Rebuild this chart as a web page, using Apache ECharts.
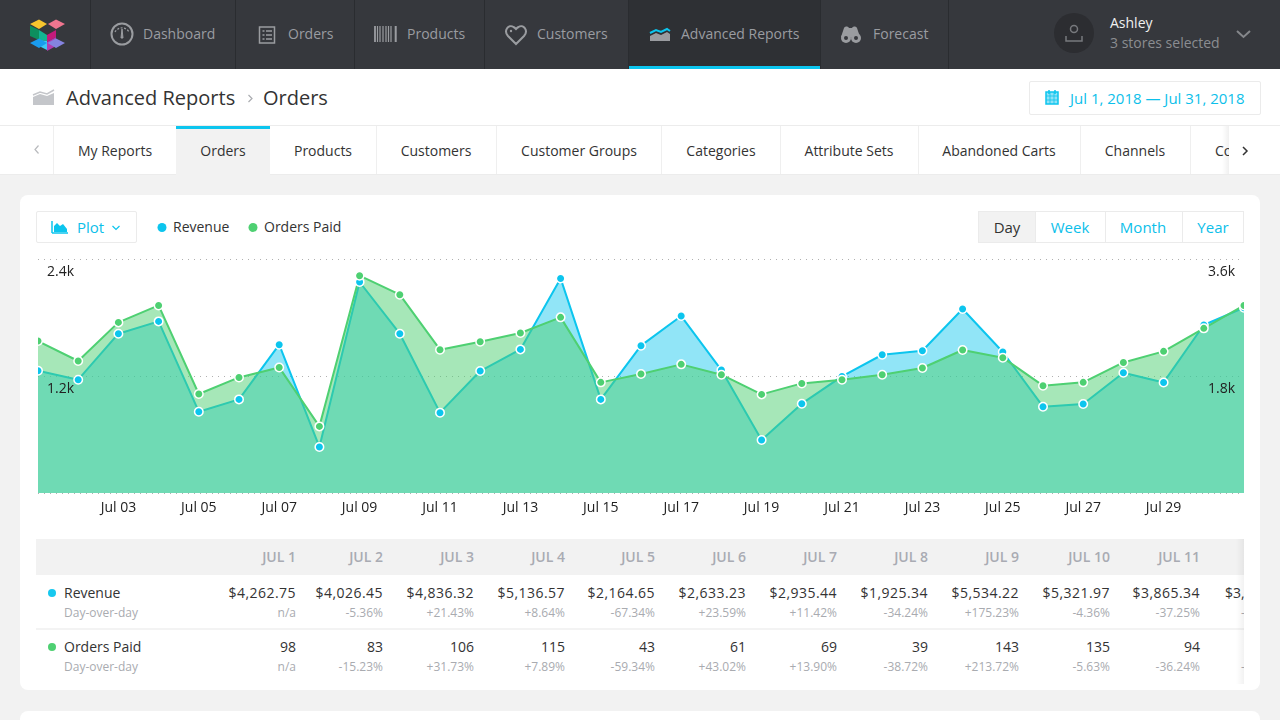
<!DOCTYPE html>
<html><head><meta charset="utf-8">
<script src="https://cdn.jsdelivr.net/npm/echarts@6/dist/echarts.min.js"></script>
<style>
html,body{margin:0;padding:0;width:1280px;height:720px;overflow:hidden;background:#f2f2f2;font-family:"Open Sans",sans-serif;color:#333}
div,span{box-sizing:border-box}
.a{position:absolute}
.t{position:absolute;white-space:nowrap;height:20px;line-height:20px}
svg{position:absolute;overflow:visible}
</style></head><body>
<div id="root" class="a" style="left:0;top:0;width:1280px;height:720px;overflow:hidden">
  <!-- top nav -->
  <div class="a" style="left:0;top:0;width:1280px;height:69px;background:#36383d"></div>
  <div class="a" style="left:629px;top:0;width:191px;height:69px;background:#2e3034;border-bottom:3px solid #0cc5ee"></div>
  <!-- breadcrumb row -->
  <div class="a" style="left:0;top:69px;width:1280px;height:57px;background:#fff;border-bottom:1px solid #ececec"></div>
  <div class="a" style="left:1029px;top:81px;width:232px;height:34px;background:#fff;border:1px solid #ebebeb;border-radius:2px"></div>
  <!-- tabs row -->
  <div class="a" style="left:0;top:126px;width:1280px;height:49px;background:#fff;border-bottom:1px solid #ececec"></div>
  <div class="a" style="left:176px;top:126px;width:94px;height:49px;background:#f2f2f2;border-top:3px solid #0cc5ee"></div>
  <div class="a" style="left:1222px;top:126px;width:7px;height:48px;background:linear-gradient(90deg,rgba(0,0,0,0),rgba(0,0,0,.06))"></div>
  <!-- cards -->
  <div class="a" style="left:20px;top:195px;width:1240px;height:495px;background:#fff;border-radius:8px"></div>
  <div class="a" style="left:20px;top:711px;width:1240px;height:40px;background:#fff;border-radius:8px"></div>
  <!-- controls -->
  <div class="a" style="left:36px;top:211px;width:101px;height:32px;border:1px solid #ebebeb;border-radius:2px"></div>
  <div class="a" style="left:978px;top:211px;width:266px;height:32px;border:1px solid #ebebeb"></div>
  <div class="a" style="left:978px;top:211px;width:58px;height:32px;background:#f2f2f2;border:1px solid #ebebeb"></div>
  <div class="a" style="left:1105px;top:211px;width:1px;height:32px;background:#ebebeb"></div>
  <div class="a" style="left:1182px;top:211px;width:1px;height:32px;background:#ebebeb"></div>
  <!-- table frame -->
  <div class="a" style="left:36px;top:539px;width:1208px;height:36px;background:#f2f2f2"></div>
  <div class="a" style="left:36px;top:628px;width:1208px;height:2px;background:#f3f3f3"></div>
  <div id="chrome"></div>
  <div id="table" class="a" style="left:0;top:0;width:1244px;height:720px;overflow:hidden"></div>
  <div class="a" style="left:1236px;top:539px;width:8px;height:145px;background:linear-gradient(90deg,rgba(0,0,0,0),rgba(0,0,0,.05))"></div>
  <div id="chart" class="a" style="left:38px;top:250px;width:1206px;height:275px"></div>

  <svg style="left:0;top:0" width="1280" height="720" viewBox="0 0 1280 720">
    <!-- logo -->
    <polygon points="30,24 39,19.5 47,24 39,29" fill="#f7c52e"/>
    <polygon points="48,24 56,19.5 65,24 56,29" fill="#f0758f"/>
    <polygon points="30,25.5 39,30 39,40 30,36" fill="#0d8f5e"/>
    <polygon points="39,30 47,35 47,41 39,40" fill="#12b592"/>
    <polygon points="56,30 47,35 47,42 56,37" fill="#c41a7c"/>
    <polygon points="47,42 56,37 56,46 47,51" fill="#b23cb0"/>
    <polygon points="39,40 47,41 47,50 39,46" fill="#3ec8f5"/>
    <polygon points="30,43 39,38.5 47,43 39,48 " fill="#1a9bee"/>
    <polygon points="47.5,43 56,38.5 65,43 56,48" fill="#8583e0"/>
    <!-- nav separators -->
    <g stroke="#2a2c30" stroke-width="1">
      <line x1="90.5" y1="0" x2="90.5" y2="69"/><line x1="235.5" y1="0" x2="235.5" y2="69"/>
      <line x1="354.5" y1="0" x2="354.5" y2="69"/><line x1="484.5" y1="0" x2="484.5" y2="69"/>
      <line x1="628.5" y1="0" x2="628.5" y2="69"/><line x1="820.5" y1="0" x2="820.5" y2="69"/>
      <line x1="948.5" y1="0" x2="948.5" y2="69"/>
    </g>
    <!-- gauge -->
    <g stroke="#9a9ca0" fill="none" stroke-width="2">
      <circle cx="122" cy="34" r="10.5"/>
      <path d="M115 32a8 8 0 0 1 14 0" stroke-width="1.2" stroke-dasharray="2 1.5"/>
      <path d="M121 38l1-9 1 9z" fill="#9a9ca0" stroke-width="1"/>
      <!-- orders list -->
      <rect x="259.5" y="27" width="15" height="16" stroke-width="1.5"/>
      <path d="M262.5 31h2M266 31h6M262.5 35h2M266 35h6M262.5 39h2M266 39h6" stroke-width="1.5"/>
      <!-- barcode -->
      <path d="M375 26v16M377.5 26v16M380 26v16M383 26v16M386 26v16M388.5 26v16M391 26v16M396 26v16" stroke-width="1.2"/>
      <path d="M375 26v16M395.5 26v16" stroke-width="1.6"/>
      <!-- heart -->
      <path d="M516 44l-8-8c-5-6 1-12 5.500-9 1.500 .8 2.500 2 2.500 2s1-1.200 2.500-2c4.500-3 10.500 3 5.500 9z" stroke-width="2"/>
    </g>
    <circle cx="511" cy="31" r="1.200" fill="#9a9ca0"/>
    <!-- Advanced Reports icon -->
    <path d="M650 41v-5l6-3 5 2 6-3 3 2v7z" fill="#9a9ca0"/>
    <path d="M650 33l6-3 5 2 6-3 3 2" fill="none" stroke="#0cc5ee" stroke-width="2"/>
    <!-- binoculars -->
    <path d="M842 38l3-9c1-2 4-2 5 0h3c1-2 4-2 5 0l3 9z" fill="#9a9ca0" transform="translate(-1 -1)"/>
    <circle cx="846" cy="38" r="5" fill="#9a9ca0"/><circle cx="856" cy="38" r="5" fill="#9a9ca0"/>
    <circle cx="846" cy="38" r="2" fill="#36383d"/><circle cx="856" cy="38" r="2" fill="#36383d"/>
    <!-- avatar -->
    <circle cx="1074" cy="33" r="20" fill="#2c2d31"/>
    <circle cx="1074" cy="29" r="3.500" fill="none" stroke="#77797d" stroke-width="1.500"/>
    <path d="M1066 36v5h16v-5" fill="none" stroke="#77797d" stroke-width="1.500"/>
    <path d="M1237 31l6.500 6 6.500-6" fill="none" stroke="#85878b" stroke-width="2"/>
    <!-- breadcrumb icon -->
    <path d="M33 105v-8l7-3 7 2 7-3v12z" fill="#c4c6ca"/>
    <path d="M33 95l7-3 7 2 7-4" fill="none" stroke="#c4c6ca" stroke-width="1.500"/>
    <path d="M248.500 95l3.500 3.500-3.500 3.500" fill="none" stroke="#aaacb0" stroke-width="1.200"/>
    <!-- calendar -->
    <g fill="none" stroke="#0cc5ee" stroke-width="1.500">
      <rect x="1046" y="92" width="12" height="12" fill="#8fe2f7"/>
      <path d="M1049 90v4M1055 90v4"/>
    </g>
    <path d="M1046 96h12M1046 100h12M1050 92v12M1054 92v12" stroke="#0cc5ee" stroke-width=".8"/>
    <!-- tab separators -->
    <g stroke="#efefef" stroke-width="1">
      <line x1="53.500" y1="126" x2="53.500" y2="174"/><line x1="376.500" y1="126" x2="376.500" y2="174"/>
      <line x1="496.500" y1="126" x2="496.500" y2="174"/><line x1="661.500" y1="126" x2="661.500" y2="174"/>
      <line x1="780.500" y1="126" x2="780.500" y2="174"/><line x1="918.500" y1="126" x2="918.500" y2="174"/>
      <line x1="1080.500" y1="126" x2="1080.500" y2="174"/><line x1="1190.500" y1="126" x2="1190.500" y2="174"/>
    </g>
    <path d="M38.500 145.500l-3.500 4 3.500 4" fill="none" stroke="#b8babd" stroke-width="1.200"/>
    <!-- plot icon -->
    <path d="M52 233h16M52 221v12" stroke="#0cc5ee" stroke-width="1.500" fill="none"/>
    <path d="M54 232v-6l3-3 3 3 3-2 4 5v3z" fill="#0cc5ee"/>
    <path d="M112.500 226l3.500 3.500 3.500-3.500" fill="none" stroke="#0cc5ee" stroke-width="1.200"/>
    <!-- legend dots -->
    <circle cx="162" cy="227.500" r="4.500" fill="#0cc5ee"/><circle cx="253" cy="227.500" r="4.500" fill="#4ed072"/>
    <circle cx="52" cy="593" r="4" fill="#17c8ef"/><circle cx="52" cy="647" r="4" fill="#4ed072"/>
  </svg>
  <div class="a" style="left:1229px;top:126px;width:51px;height:48px;background:#fff"></div>
  <svg style="left:0;top:0" width="1280" height="720"><path d="M1243 147l4 4-4 4" fill="none" stroke="#333" stroke-width="1.500"/></svg>
</div>
<script>
// Chart data
const days = ["Jul 01","Jul 02","Jul 03","Jul 04","Jul 05","Jul 06","Jul 07","Jul 08","Jul 09","Jul 10","Jul 11","Jul 12","Jul 13","Jul 14","Jul 15","Jul 16","Jul 17","Jul 18","Jul 19","Jul 20","Jul 21","Jul 22","Jul 23","Jul 24","Jul 25","Jul 26","Jul 27","Jul 28","Jul 29","Jul 30","Jul 31"];
const revenue = [1254,1162,1634,1760,834,960,1521,472,2164,1634,824,1251,1473,2201,960,1511,1815,1261,544,916,1196,1418,1459,1887,1446,885,913,1234,1134,1723,1900];
const ordersPaid = [2338,2031,2625,2886,1523,1778,1932,1025,3343,3051,2205,2328,2462,2702,1702,1831,1979,1820,1517,1686,1743,1820,1923,2200,2082,1651,1702,2009,2179,2533,2886];

// Table data
const tableDays = ["JUL 1","JUL 2","JUL 3","JUL 4","JUL 5","JUL 6","JUL 7","JUL 8","JUL 9","JUL 10","JUL 11"];
const tableRight = [296,383,474,565,655,746,837,928,1019,1110,1200];
const tableRevenue = ["$4,262.75","$4,026.45","$4,836.32","$5,136.57","$2,164.65","$2,633.23","$2,935.44","$1,925.34","$5,534.22","$5,321.97","$3,865.34"];
const tableRevenuePct = ["n/a","-5.36%","+21.43%","+8.64%","-67.34%","+23.59%","+11.42%","-34.24%","+175.23%","-4.36%","-37.25%"];
const tableOrders = ["98","83","106","115","43","61","69","39","143","135","94"];
const tableOrdersPct = ["n/a","-15.23%","+31.73%","+7.89%","-59.34%","+43.02%","+13.90%","-38.72%","+213.72%","-5.63%","-36.24%"];

// Page chrome text
const navItems = [["Dashboard",143],["Orders",288],["Products",407],["Customers",537],["Advanced Reports",681],["Forecast",873]];
const tabItems = [["My Reports",115],["Orders",223],["Products",323],["Customers",436],["Customer Groups",579],["Categories",721],["Attribute Sets",849],["Abandoned Carts",999],["Channels",1135]];
const ranges = [["Day",1007,"#333"],["Week",1070,"#0cc0ea"],["Month",1143,"#0cc0ea"],["Year",1213,"#0cc0ea"]];

const chrome = document.getElementById('chrome');
function put(parent, text, x, y, size, color, align, extra) {
  const d = document.createElement('div');
  d.className = 't';
  d.textContent = text;
  d.style.top = (y - 10) + 'px';
  d.style.fontSize = size + 'px';
  d.style.color = color;
  if (align === 'right') d.style.right = (1244 - x) + 'px';
  else if (align === 'center') { d.style.left = x + 'px'; d.style.transform = 'translateX(-50%)'; }
  else d.style.left = x + 'px';
  if (extra) Object.assign(d.style, extra);
  parent.appendChild(d);
}
navItems.forEach(n => put(chrome, n[0], n[1], 34, 14, '#9a9ca1'));
put(chrome, "Ashley", 1110, 23, 14, '#f0f0f0');
put(chrome, "3 stores selected", 1110, 43, 14, '#8b8d91');
put(chrome, "Advanced Reports", 66, 98, 20, '#333');
put(chrome, "Orders", 263, 98, 20, '#333');
put(chrome, "Jul 1, 2018 — Jul 31, 2018", 1070, 98, 15, '#0cc0ea');
tabItems.forEach(n => put(chrome, n[0], n[1], 150.5, 14, '#333', 'center'));
put(chrome, "Co", 1215, 150.5, 14, '#333');
put(chrome, "Plot", 77, 227, 15, '#0cc0ea');
put(chrome, "Revenue", 173, 227, 14, '#333');
put(chrome, "Orders Paid", 264, 227, 14, '#333');
ranges.forEach(n => put(chrome, n[0], n[1], 227, 15, n[2], 'center'));

const table = document.getElementById('table');
put(table, "Revenue", 64, 593, 14, '#333');
put(table, "Day-over-day", 64, 613, 12, '#a9abb0');
put(table, "Orders Paid", 64, 647, 14, '#333');
put(table, "Day-over-day", 64, 667, 12, '#a9abb0');
tableDays.forEach((d, i) => {
  const r = tableRight[i];
  put(table, d, r, 557, 14, '#a9abb3', 'right', {fontWeight: 600});
  put(table, tableRevenue[i], r, 593, 14, '#333', 'right', {letterSpacing: '.45px'});
  put(table, tableRevenuePct[i], r, 613, 12, '#a9abb0', 'right');
  put(table, tableOrders[i], r, 647, 14, '#333', 'right');
  put(table, tableOrdersPct[i], r, 667, 12, '#a9abb0', 'right');
});
put(table, "$3,", 1225, 593, 14, '#333');
put(table, "-", 1241, 613, 12, '#a9abb0');
put(table, "-", 1241, 667, 12, '#a9abb0');

const chart = echarts.init(document.getElementById('chart'), null, {renderer: 'canvas'});
const fmtK = v => v ? (v / 1000) + 'k' : '';
const labelStyle = {inside: true, margin: 9, verticalAlign: 'top', padding: [6, 0, 0, 0], fontSize: 14, color: '#222', fontFamily: '"Open Sans"', formatter: fmtK};
const markerSeries = (name, yAxisIndex, data, color, z) => ({
  name, type: 'line', yAxisIndex, data, clip: false, z,
  symbol: 'circle', symbolSize: 8.5, showAllSymbol: true,
  lineStyle: {width: 0, opacity: 0},
  itemStyle: {color, borderColor: '#fff', borderWidth: 1.5}
});
const lineSeries = (name, yAxisIndex, data, color, opacity, z) => ({
  name, type: 'line', yAxisIndex, data, clip: false, z,
  symbol: 'none',
  lineStyle: {color, width: 2}, areaStyle: {color, opacity}
});
chart.setOption({
  animation: false,
  textStyle: {fontFamily: '"Open Sans"'},
  grid: {left: 0, right: 0, top: 9, height: 234},
  xAxis: {
    type: 'category', data: days, boundaryGap: false,
    axisLine: {show: false}, axisTick: {show: false}, splitLine: {show: false},
    axisLabel: {interval: (i) => i % 2 === 0 && i > 0 && i < 30, margin: 8, fontSize: 14, color: '#222', fontFamily: '"Open Sans"'}
  },
  yAxis: [
    {type: 'value', position: 'left', min: 0, max: 2400, interval: 1200, z: 10,
      axisLine: {show: false}, axisTick: {show: false}, splitLine: {show: false}, axisLabel: labelStyle},
    {type: 'value', position: 'right', min: 0, max: 3600, interval: 1800, z: 10,
      axisLine: {show: false}, axisTick: {show: false}, splitLine: {show: false}, axisLabel: labelStyle},
    {type: 'value', position: 'left', min: 0, max: 2400, interval: 1200, z: 0,
      axisLine: {show: false}, axisTick: {show: false}, axisLabel: {show: false},
      splitLine: {show: true, lineStyle: {type: [1, 5], color: '#b0b0b0', width: 1}}}
  ],
  series: [
    lineSeries('Revenue', 0, revenue, '#0cc5ee', 0.45, 2),
    lineSeries('Orders Paid', 1, ordersPaid, '#4ed072', 0.5, 3),
    markerSeries('Revenue points', 0, revenue, '#0cc5ee', 4),
    markerSeries('Orders Paid points', 1, ordersPaid, '#4ed072', 5)
  ]
});
</script>
</body></html>
